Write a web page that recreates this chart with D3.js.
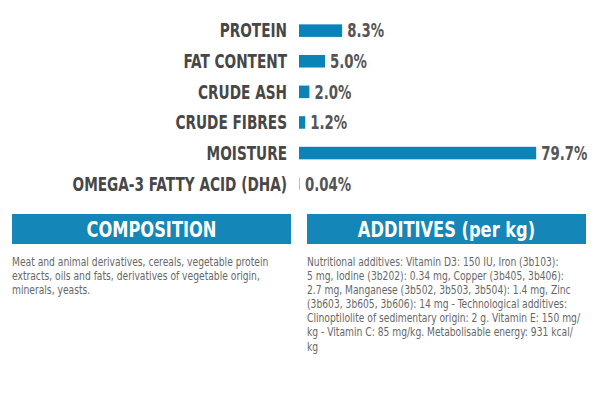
<!DOCTYPE html>
<html>
<head>
<meta charset="utf-8">
<script src="https://cdn.jsdelivr.net/npm/d3@7"></script>
<style>
  html, body { margin: 0; padding: 0; background: #ffffff; }
  svg { display: block; }
  .cond { font-family: "DejaVu Sans Condensed", "DejaVu Sans", sans-serif; }
</style>
</head>
<body>
<svg id="chart" width="600" height="400"></svg>
<script>
// ---- data ----
const categories = ["PROTEIN", "FAT CONTENT", "CRUDE ASH", "CRUDE FIBRES", "MOISTURE", "OMEGA-3 FATTY ACID (DHA)"];
const values = [8.3, 5.0, 2.0, 1.2, 79.7, 0.04];
const valueLabels = ["8.3%", "5.0%", "2.0%", "1.2%", "79.7%", "0.04%"];
const panelTitles = ["COMPOSITION", "ADDITIVES (per kg)"];
const compositionLines = [
  "Meat and animal derivatives, cereals, vegetable protein",
  "extracts, oils and fats, derivatives of vegetable origin,",
  "minerals, yeasts."
];
const additivesLines = [
  "Nutritional additives: Vitamin D3: 150 IU, Iron (3b103):",
  "5 mg, Iodine (3b202): 0.34 mg, Copper (3b405, 3b406):",
  "2.7 mg, Manganese (3b502, 3b503, 3b504): 1.4 mg, Zinc",
  "(3b603, 3b605, 3b606): 14 mg - Technological additives:",
  "Clinoptilolite of sedimentary origin: 2 g. Vitamin E: 150 mg/",
  "kg - Vitamin C: 85 mg/kg. Metabolisable energy: 931 kcal/",
  "kg"
];

// ---- drawing ----
const svg = d3.select("#chart");
const blue = "#0a84b8";
const labelColor = "#474747";
const valueColor = "#555555";
const bodyColor = "#676767";

const barX0 = 299;
// the source chart uses a compressed scale for the large value
const x = d3.scaleLinear().domain([0, 10, 80]).range([0, 52, 238]);
const y = d3.scaleBand().domain(categories).range([6.3, 208]).padding(0.59);
const w = v => Math.max(1, x(v));

const rows = svg.append("g").selectAll("g.row")
  .data(categories.map((c, i) => ({ c, v: values[i], l: valueLabels[i] })))
  .join("g").attr("class", "row");

rows.append("rect")
  .attr("x", barX0)
  .attr("y", d => y(d.c))
  .attr("width", d => w(d.v))
  .attr("height", y.bandwidth())
  .attr("fill", d => d.v < 0.5 ? "#9ccbe2" : blue);

rows.append("text")
  .attr("class", "cond")
  .attr("transform", d => `translate(${barX0 - 12},${y(d.c) + y.bandwidth() / 2}) scale(0.8,1)`)
  .attr("dy", "0.36em")
  .attr("text-anchor", "end")
  .attr("font-weight", "bold")
  .attr("font-size", 19)
  .attr("fill", labelColor)
  .text(d => d.c);

rows.append("text")
  .attr("class", "cond")
  .attr("transform", d => `translate(${barX0 + w(d.v) + 5},${y(d.c) + y.bandwidth() / 2}) scale(0.78,1)`)
  .attr("dy", "0.36em")
  .attr("font-weight", "bold")
  .attr("font-size", 19)
  .attr("fill", valueColor)
  .text(d => d.l);

// ---- panels ----
const panels = [
  { title: panelTitles[0], x: 12, w: 279, lines: compositionLines },
  { title: panelTitles[1], x: 307, w: 279, lines: additivesLines }
];
const pg = svg.append("g").selectAll("g.panel").data(panels).join("g").attr("class", "panel");
pg.append("rect")
  .attr("x", d => d.x).attr("y", 214).attr("width", d => d.w).attr("height", 30)
  .attr("fill", "#1486b8");
pg.append("text")
  .attr("class", "cond")
  .attr("transform", d => `translate(${d.x + d.w / 2},229) scale(0.86,1)`)
  .attr("dy", "0.36em")
  .attr("text-anchor", "middle").attr("font-weight", "bold").attr("font-size", 21)
  .attr("fill", "#ffffff")
  .text(d => d.title);
pg.each(function(d) {
  const t = d3.select(this).append("text")
    .attr("class", "cond")
    .attr("transform", `translate(${d.x},0) scale(0.85,1)`)
    .attr("font-size", 12)
    .attr("fill", bodyColor);
  t.selectAll("tspan").data(d.lines).join("tspan")
    .attr("x", 0).attr("y", (s, i) => 266 + i * 14.1)
    .text(s => s);
});
</script>
</body>
</html>
